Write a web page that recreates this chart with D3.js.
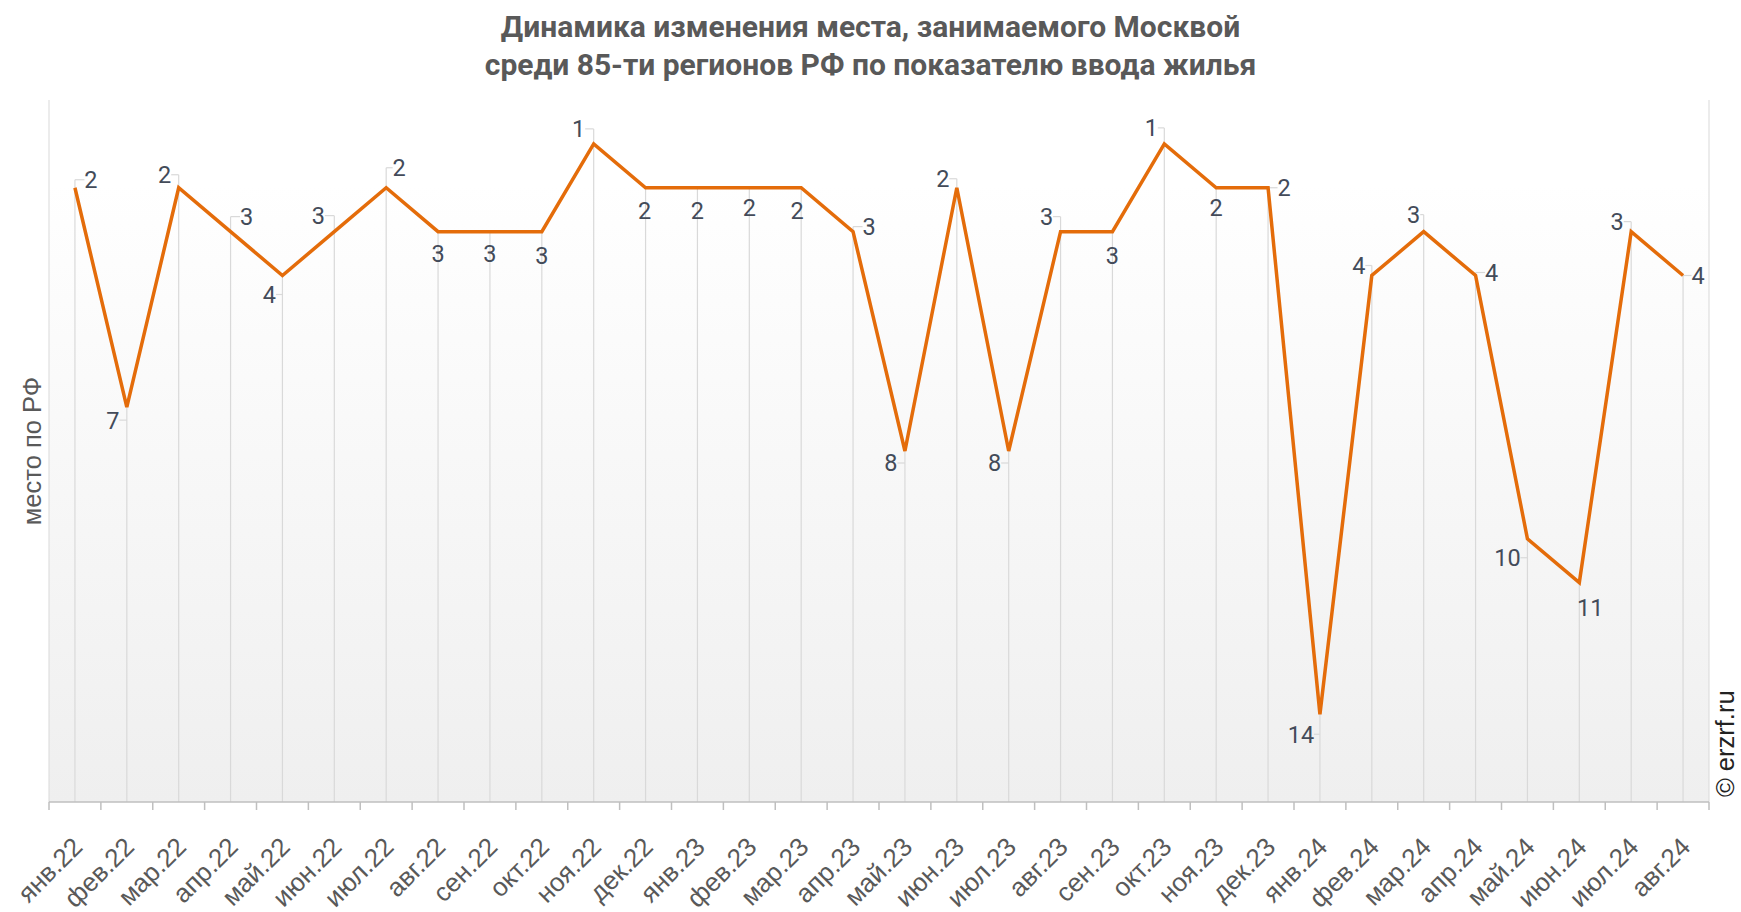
<!DOCTYPE html>
<html>
<head>
<meta charset="utf-8">
<script src="https://cdn.jsdelivr.net/npm/d3@7/dist/d3.min.js"></script>
<style>
  html, body { margin: 0; padding: 0; background: #ffffff; }
  svg { display: block; }
</style>
</head>
<body>
<svg id="chart" width="1741" height="912"></svg>
<script>
// ---- data ----
const titleLines = ["Динамика изменения места, занимаемого Москвой", "среди 85-ти регионов РФ по показателю ввода жилья"];
const yAxisTitle = "место по РФ";
const copyright = "© erzrf.ru";
const months = ["янв.22","фев.22","мар.22","апр.22","май.22","июн.22","июл.22","авг.22","сен.22","окт.22","ноя.22","дек.22",
                "янв.23","фев.23","мар.23","апр.23","май.23","июн.23","июл.23","авг.23","сен.23","окт.23","ноя.23","дек.23",
                "янв.24","фев.24","мар.24","апр.24","май.24","июн.24","июл.24","авг.24"];
const ranks = [2,7,2,3,4,3,2,3,3,3,1,2,2,2,2,3,8,2,8,3,3,1,2,2,14,4,3,4,10,11,3,4];
const yDomain = [0, 16];
// label placement (style): offset of label centre from its point, px
const labelOffsets = [[16,-8],[-14,13],[-14,-13],[16,-15],[-13,19],[-16,-16],[13,-20],[0,22],[0,22],[0,24],[-15,-15],[-1,23],
                      [0,23],[0,20],[-4,23],[16,-5],[-14,12],[-14,-9],[-14,12],[-14,-15],[0,24],[-13,-16],[0,20],[16,0],
                      [-19,20],[-13,-10],[-10,-17],[16,-3],[-20,19],[11,25],[-14,-10],[15,0]];

// ---- layout ----
const W = 1741, H = 912;
const plot = {left: 49, right: 1709, top: 100, bottom: 802};
const svg = d3.select("#chart");

const x = d3.scalePoint().domain(months).range([plot.left, plot.right]).padding(0.5);
const y = d3.scaleLinear().domain(yDomain).range([plot.top, plot.bottom]);
const step = x.step();

// background gradient
const defs = svg.append("defs");
const grad = defs.append("linearGradient").attr("id","bg").attr("x1",0).attr("y1",0).attr("x2",0).attr("y2",1);
grad.append("stop").attr("offset","0%").attr("stop-color","#ffffff");
grad.append("stop").attr("offset","12%").attr("stop-color","#ffffff");
grad.append("stop").attr("offset","100%").attr("stop-color","#efefef");
svg.append("rect").attr("x",plot.left).attr("y",plot.top)
   .attr("width",plot.right-plot.left).attr("height",plot.bottom-plot.top)
   .attr("fill","url(#bg)");

// frame verticals
svg.append("g").selectAll("line").data([plot.left, plot.right]).join("line")
   .attr("x1",d=>d).attr("x2",d=>d).attr("y1",plot.top).attr("y2",plot.bottom)
   .attr("stroke","#d9d9d9").attr("stroke-width",1);

const data = months.map((m,i)=>({m, v: ranks[i], off: labelOffsets[i]}));

// drop lines + leaders
const gl = svg.append("g").attr("stroke","#d9d9d9").attr("stroke-width",1.2).attr("fill","none");
data.forEach(d=>{
  const px = x(d.m), py = y(d.v);
  const ly = py + d.off[1];
  const top = Math.min(py, ly);
  gl.append("line").attr("x1",px).attr("x2",px).attr("y1",top).attr("y2",plot.bottom);
  const half = String(d.v).length*6.5;
  if (Math.abs(d.off[0]) > half + 2) {
    const edge = px + d.off[0] - Math.sign(d.off[0])*half;
    gl.append("line").attr("x1",px).attr("x2",edge).attr("y1",ly).attr("y2",ly);
  }
});

// x axis
svg.append("line").attr("x1",plot.left).attr("x2",plot.right).attr("y1",plot.bottom).attr("y2",plot.bottom)
   .attr("stroke","#bfbfbf").attr("stroke-width",1.5);
const tickXs = months.map(m=>x(m)-step/2).concat([x(months[months.length-1])+step/2]);
svg.append("g").selectAll("line").data(tickXs).join("line")
   .attr("x1",d=>d).attr("x2",d=>d).attr("y1",plot.bottom).attr("y2",plot.bottom+8)
   .attr("stroke","#bfbfbf").attr("stroke-width",1.5);

const xAxis = d3.axisBottom(x).tickSize(0).tickPadding(0);
const gx = svg.append("g").attr("transform",`translate(0,${plot.bottom})`).call(xAxis);
gx.select(".domain").remove();
gx.selectAll("text")
  .attr("font-family","'Liberation Sans', Arial, sans-serif")
  .attr("font-size",26).attr("fill","#595959")
  .attr("text-anchor","end")
  .attr("dy","0.35em")
  .attr("transform","translate(2,40) rotate(-45)")
  .attr("y",0).attr("x",0);

// line
svg.append("path").datum(data)
   .attr("fill","none").attr("stroke","#e46c0a").attr("stroke-width",3.5)
   .attr("stroke-linejoin","miter")
   .attr("d", d3.line().x(d=>x(d.m)).y(d=>y(d.v)));

// data labels
svg.append("g").selectAll("text").data(data).join("text")
   .attr("x",d=>x(d.m)+d.off[0]).attr("y",d=>y(d.v)+d.off[1])
   .attr("dy","0.36em").attr("text-anchor","middle")
   .attr("font-family","Roboto, sans-serif").attr("font-size",23.5).attr("fill","#434b59")
   .text(d=>d.v);

// title
svg.append("g").selectAll("text").data(titleLines).join("text")
   .attr("x",W/2).attr("y",(d,i)=>37+i*38)
   .attr("text-anchor","middle")
   .attr("font-family","Roboto, sans-serif").attr("font-weight","bold")
   .attr("font-size",30).attr("fill","#595959")
   .text(d=>d);

// y axis title
svg.append("text")
   .attr("transform",`translate(41,${(plot.top+plot.bottom)/2}) rotate(-90)`)
   .attr("text-anchor","middle")
   .attr("font-family","'Liberation Sans', Arial, sans-serif").attr("font-size",25.5).attr("fill","#595959")
   .text(yAxisTitle);

// copyright
svg.append("text")
   .attr("transform",`translate(1734,797) rotate(-90)`)
   .attr("text-anchor","start")
   .attr("font-family","'Liberation Sans', Arial, sans-serif").attr("font-size",25.5).attr("fill","#222")
   .text(copyright);
</script>
</body>
</html>
